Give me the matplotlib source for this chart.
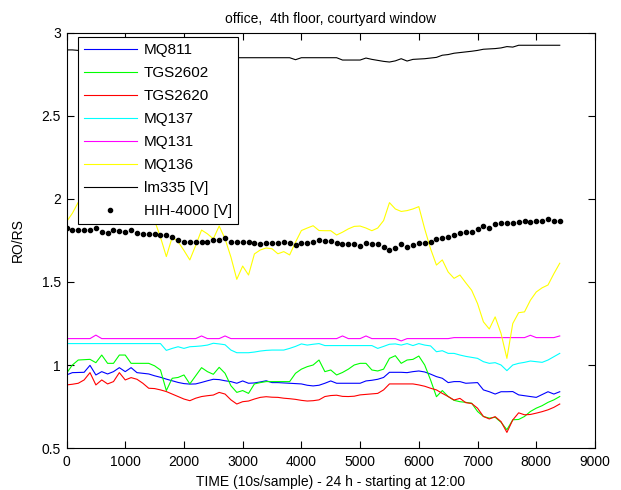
import numpy as np
import matplotlib
matplotlib.use('Agg')
import matplotlib.pyplot as plt

plt.rcParams['font.family'] = ['Liberation Sans', 'DejaVu Sans']

# sample index (one point every 100 samples)
samples = np.arange(0, 8500, 100)

mq811 = [0.94, 0.954, 0.955, 0.956, 0.998, 0.94, 0.96, 0.946, 0.96, 0.984,
         0.96, 0.984, 0.954, 0.95, 0.946, 0.935, 0.926, 0.915, 0.905, 0.895,
         0.888, 0.885, 0.886, 0.895, 0.905, 0.914, 0.912, 0.905, 0.9, 0.89,
         0.904, 0.89, 0.892, 0.898, 0.905, 0.894, 0.894, 0.892, 0.89, 0.888,
         0.886, 0.878, 0.874, 0.878, 0.89, 0.904, 0.89, 0.89, 0.89, 0.89,
         0.89, 0.904, 0.908, 0.914, 0.925, 0.956, 0.956, 0.956, 0.954, 0.96,
         0.964, 0.958, 0.945, 0.93, 0.92, 0.894, 0.90, 0.90, 0.89, 0.892,
         0.894, 0.85, 0.839, 0.825, 0.839, 0.839, 0.84, 0.82, 0.815, 0.81,
         0.805, 0.822, 0.839, 0.825, 0.839]

tgs2602 = [0.95, 1.00, 1.03, 1.032, 1.034, 1.014, 1.06, 1.01, 1.01, 1.06,
           1.06, 1.01, 1.01, 1.01, 1.01, 0.995, 0.97, 0.846, 0.92, 0.925,
           0.94, 0.886, 0.935, 0.984, 0.96, 0.944, 0.986, 0.95, 0.875, 0.835,
           0.846, 0.829, 0.886, 0.894, 0.90, 0.90, 0.90, 0.90, 0.90, 0.95,
           0.975, 0.99, 1.0, 1.03, 0.96, 0.97, 0.94, 0.955, 0.975, 1.0,
           1.01, 1.01, 0.97, 0.964, 0.975, 1.04, 1.056, 1.01, 1.03, 1.034,
           1.054, 1.0, 0.91, 0.809, 0.846, 0.81, 0.787, 0.779, 0.775, 0.77,
           0.72, 0.69, 0.68, 0.685, 0.655, 0.61, 0.67, 0.672, 0.69, 0.72,
           0.74, 0.755, 0.775, 0.79, 0.81]

tgs2620 = [0.88, 0.884, 0.89, 0.91, 0.954, 0.88, 0.91, 0.886, 0.90, 0.954,
           0.91, 0.924, 0.914, 0.89, 0.86, 0.858, 0.85, 0.84, 0.825, 0.81,
           0.795, 0.785, 0.80, 0.81, 0.815, 0.819, 0.835, 0.825, 0.79, 0.765,
           0.779, 0.783, 0.795, 0.805, 0.809, 0.806, 0.805, 0.80, 0.797, 0.793,
           0.787, 0.783, 0.785, 0.79, 0.81, 0.816, 0.818, 0.811, 0.81, 0.812,
           0.82, 0.823, 0.826, 0.829, 0.85, 0.886, 0.886, 0.886, 0.886, 0.886,
           0.88, 0.872, 0.86, 0.85, 0.829, 0.81, 0.789, 0.799, 0.773, 0.768,
           0.74, 0.69, 0.675, 0.689, 0.659, 0.594, 0.669, 0.712, 0.70, 0.702,
           0.71, 0.719, 0.73, 0.745, 0.765]

mq137 = [1.129, 1.129, 1.129, 1.129, 1.129, 1.129, 1.129, 1.129, 1.129, 1.129,
         1.129, 1.129, 1.129, 1.129, 1.129, 1.129, 1.129, 1.088, 1.10, 1.11,
         1.10, 1.11, 1.112, 1.115, 1.12, 1.131, 1.127, 1.122, 1.09, 1.074,
         1.074, 1.074, 1.078, 1.084, 1.088, 1.09, 1.09, 1.09, 1.10, 1.112,
         1.127, 1.12, 1.125, 1.129, 1.117, 1.117, 1.117, 1.117, 1.117, 1.117,
         1.117, 1.117, 1.117, 1.10, 1.112, 1.125, 1.127, 1.12, 1.129, 1.117,
         1.129, 1.12, 1.115, 1.08, 1.086, 1.07, 1.07, 1.06, 1.052, 1.046,
         1.04, 1.02, 1.01, 1.014, 1.0, 0.966, 1.0, 1.01, 1.016, 1.024,
         1.02, 1.016, 1.03, 1.05, 1.07]

mq131 = [1.159, 1.159, 1.159, 1.159, 1.159, 1.18, 1.159, 1.159, 1.159, 1.159,
         1.159, 1.159, 1.159, 1.159, 1.159, 1.159, 1.159, 1.159, 1.159, 1.159,
         1.159, 1.159, 1.159, 1.175, 1.159, 1.159, 1.159, 1.175, 1.159, 1.159,
         1.159, 1.159, 1.159, 1.159, 1.159, 1.159, 1.159, 1.159, 1.159, 1.159,
         1.159, 1.159, 1.159, 1.159, 1.159, 1.159, 1.159, 1.175, 1.159, 1.159,
         1.159, 1.175, 1.159, 1.159, 1.159, 1.159, 1.159, 1.145, 1.159, 1.159,
         1.159, 1.159, 1.159, 1.159, 1.159, 1.159, 1.165, 1.165, 1.165, 1.165,
         1.165, 1.165, 1.165, 1.165, 1.165, 1.165, 1.165, 1.165, 1.165, 1.179,
         1.165, 1.165, 1.165, 1.165, 1.175]

mq136 = [1.863, 1.914, 1.98, 1.97, 1.95, 1.93, 1.95, 1.97, 1.96, 1.94,
         1.93, 1.95, 1.93, 1.92, 1.90, 1.87, 1.77, 1.653, 1.77, 1.743,
         1.69, 1.633, 1.72, 1.813, 1.79, 1.76, 1.837, 1.76, 1.65, 1.516,
         1.596, 1.542, 1.669, 1.693, 1.705, 1.70, 1.67, 1.683, 1.663, 1.74,
         1.81, 1.825, 1.839, 1.81, 1.809, 1.809, 1.783, 1.80, 1.82, 1.835,
         1.837, 1.825, 1.809, 1.825, 1.87, 1.978, 1.94, 1.925, 1.93, 1.94,
         1.954, 1.82, 1.70, 1.602, 1.633, 1.56, 1.522, 1.542, 1.495, 1.45,
         1.37, 1.26, 1.217, 1.29, 1.19, 1.04, 1.25, 1.315, 1.32, 1.39,
         1.44, 1.465, 1.482, 1.55, 1.613]

lm335 = [2.898, 2.898, 2.895, 2.89, 2.888, 2.885, 2.88, 2.878, 2.875, 2.872,
         2.87, 2.868, 2.866, 2.865, 2.864, 2.862, 2.86, 2.86, 2.858, 2.858,
         2.857, 2.856, 2.856, 2.855, 2.855, 2.854, 2.853, 2.853, 2.852, 2.851,
         2.851, 2.851, 2.851, 2.851, 2.851, 2.851, 2.851, 2.851, 2.851, 2.839,
         2.851, 2.851, 2.851, 2.851, 2.851, 2.851, 2.851, 2.837, 2.837, 2.837,
         2.837, 2.849, 2.841, 2.835, 2.829, 2.825, 2.832, 2.845, 2.831, 2.841,
         2.843, 2.845, 2.849, 2.853, 2.866, 2.87, 2.878, 2.882, 2.886, 2.89,
         2.895, 2.902, 2.904, 2.906, 2.91, 2.918, 2.915, 2.926, 2.926, 2.926,
         2.926, 2.926, 2.926, 2.926, 2.926]

hih4000 = [1.828, 1.816, 1.812, 1.812, 1.816, 1.824, 1.800, 1.796, 1.812, 1.808,
           1.800, 1.816, 1.796, 1.792, 1.788, 1.788, 1.784, 1.784, 1.771, 1.755,
           1.743, 1.739, 1.739, 1.739, 1.739, 1.751, 1.751, 1.763, 1.739, 1.739,
           1.739, 1.739, 1.735, 1.727, 1.735, 1.735, 1.735, 1.739, 1.735, 1.723,
           1.735, 1.735, 1.741, 1.75, 1.749, 1.749, 1.733, 1.729, 1.729, 1.729,
           1.719, 1.737, 1.729, 1.729, 1.709, 1.693, 1.703, 1.729, 1.713, 1.723,
           1.737, 1.737, 1.743, 1.757, 1.763, 1.773, 1.783, 1.797, 1.803, 1.803,
           1.817, 1.837, 1.827, 1.849, 1.857, 1.857, 1.857, 1.863, 1.870, 1.863,
           1.870, 1.870, 1.878, 1.870, 1.870]

series = [('MQ811', mq811, '#0000ff'),
          ('TGS2602', tgs2602, '#00ff00'),
          ('TGS2620', tgs2620, '#ff0000'),
          ('MQ137', mq137, '#00ffff'),
          ('MQ131', mq131, '#ff00ff'),
          ('MQ136', mq136, '#ffff00'),
          ('lm335 [V]', lm335, '#000000')]

fig = plt.figure(figsize=(6.21, 4.90), dpi=100)
ax = fig.add_axes([0.1071, 0.0857, 0.851, 0.847])

for name, vals, col in series:
    ax.plot(samples, vals, color=col, lw=0.8, label=name)
ax.plot(samples, hih4000, linestyle='none', marker='o', markersize=3.0,
        color='black', label='HIH-4000 [V]')

ax.set_xlim(0, 9000)
ax.set_ylim(0.5, 3)
ax.set_xticks(np.arange(0, 9001, 1000))
ax.set_yticks([0.5, 1, 1.5, 2, 2.5, 3])
ax.set_yticklabels(['0.5', '1', '1.5', '2', '2.5', '3'])
ax.tick_params(direction='in', top=True, right=True, length=5, width=0.8,
               labelsize=10)
ax.tick_params(axis='x', pad=5)
ax.tick_params(axis='y', pad=4)
for sp in ax.spines.values():
    sp.set_linewidth(0.8)

ax.set_title('office,  4th floor, courtyard window', fontsize=10, pad=7)
ax.set_xlabel('TIME (10s/sample) - 24 h - starting at 12:00', fontsize=10, labelpad=4)
ax.set_ylabel('RO/RS', fontsize=10, labelpad=12)

leg = ax.legend(loc='upper left', bbox_to_anchor=(0.0212, 0.9897), fontsize=11,
                fancybox=False, framealpha=1, edgecolor='black',
                handlelength=3.5, handletextpad=0.45, labelspacing=0.59,
                borderpad=0.38, borderaxespad=0, markerscale=1.0)
leg.get_frame().set_linewidth(0.8)

fig.savefig('out.png', dpi=100)
